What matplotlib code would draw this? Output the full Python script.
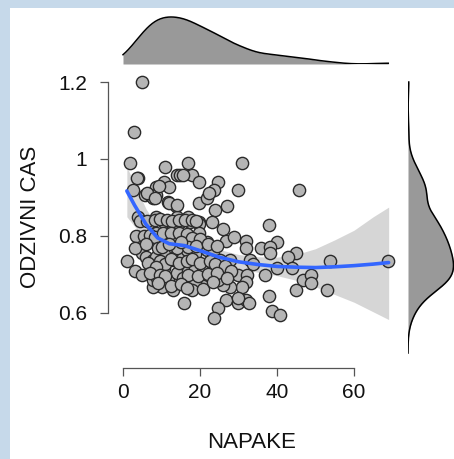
import numpy as np
import matplotlib
matplotlib.use("Agg")
import matplotlib.pyplot as plt
from matplotlib.patches import Rectangle

plt.rcParams['font.family'] = ['Liberation Sans', 'DejaVu Sans']

# ---- data: NAPAKE (x) and ODZIVNI CAS (y) ----
napake = [4.9, 2.9, 1.8, 10.9, 16.8, 30.8, 3.8, 13.9, 14.8, 17.8, 19.8, 24.8, 10.7, 11.9, 8.7,
          2.7, 29.9, 45.8, 23.7, 5.7, 7.0, 7.8, 8.7, 11.8, 13.8, 19.8, 21.9, 26.9, 23.9,
          3.8, 7.0, 8.7, 10.7, 13.9, 14.8, 16.8, 17.5, 19.7, 19.8, 23.0, 25.9, 13.0, 37.8,
          3.8, 6.5, 8.7, 10.7, 15.4, 16.7, 19.8, 21.7, 26.8, 28.9, 31.9, 31.9, 39.9, 35.8,
          38.1, 38.1, 44.9, 42.9, 53.8, 68.9, 1.0, 4.9, 5.9, 7.8, 8.7, 10.7, 13.0, 13.9,
          15.6, 16.7, 18.8, 21.7, 23.4, 25.2, 27.8, 33.0, 33.8, 39.9, 43.8, 46.8, 48.8, 48.8,
          36.9, 29.8, 32.2, 31.9, 30.8, 27.8, 25.9, 24.8, 22.6, 20.9, 18.8, 17.8, 20.9, 13.0,
          13.9, 11.8, 10.0, 7.8, 7.8, 8.8, 3.0, 10.7, 13.9, 16.8, 18.8, 20.9, 23.4, 15.9,
          26.8, 24.8, 23.7, 29.8, 31.9, 32.8, 37.8, 38.8, 40.8, 44.9, 52.9, 29.8,
          3.6, 15.6, 6.2, 8.2, 9.3, 12.0, 14.0, 22.3,
          4.5, 6.2, 8.4, 9.5, 11.5, 12.6, 14.5, 16.0, 18.0, 19.0,
          3.3, 5.5, 7.0, 8.3, 10.5, 12.5, 14.5, 16.5, 18.0, 20.0,
          3.0, 9.0, 10.2, 14.0, 17.0, 12.0, 6.0, 19.0, 22.0, 24.5, 15.0,
          6.5, 9.5, 11.0, 12.5, 14.5, 16.5, 18.0, 20.0, 22.5, 24.0, 26.5, 8.5,
          5.0, 7.0, 9.5, 11.0, 15.5, 17.0, 19.5, 22.0, 24.5, 28.0,
          9.0, 12.5, 15.0, 16.5, 23.5, 27.0]
odzivni_cas = [1.200, 1.071, 0.990, 0.980, 0.990, 0.990, 0.950, 0.958, 0.958, 0.958, 0.940, 0.940,
               0.940, 0.928, 0.928, 0.920, 0.920, 0.920, 0.920, 0.906, 0.906, 0.900, 0.906, 0.889,
               0.878, 0.886, 0.900, 0.878, 0.867, 0.849, 0.837, 0.850, 0.837, 0.850, 0.837, 0.850,
               0.837, 0.837, 0.830, 0.837, 0.817, 0.817, 0.829, 0.798, 0.798, 0.807, 0.798, 0.802,
               0.789, 0.807, 0.785, 0.787, 0.798, 0.787, 0.768, 0.785, 0.768, 0.772, 0.757, 0.757,
               0.746, 0.736, 0.736, 0.736, 0.757, 0.746, 0.738, 0.746, 0.754, 0.738, 0.754, 0.746,
               0.763, 0.754, 0.763, 0.754, 0.738, 0.738, 0.738, 0.728, 0.717, 0.717, 0.687, 0.698,
               0.677, 0.698, 0.698, 0.698, 0.681, 0.668, 0.668, 0.672, 0.687, 0.687, 0.670, 0.677,
               0.659, 0.662, 0.659, 0.679, 0.687, 0.668, 0.668, 0.687, 0.692, 0.709, 0.717, 0.704,
               0.709, 0.717, 0.709, 0.700, 0.625, 0.635, 0.614, 0.587, 0.625, 0.635, 0.625, 0.643,
               0.605, 0.595, 0.659, 0.659, 0.640,
               0.950, 0.958, 0.911, 0.898, 0.930, 0.886, 0.880, 0.911,
               0.840, 0.840, 0.842, 0.845, 0.842, 0.840, 0.842, 0.842, 0.842, 0.840,
               0.800, 0.800, 0.803, 0.798, 0.808, 0.808, 0.808, 0.804, 0.795, 0.792,
               0.770, 0.770, 0.772, 0.770, 0.772, 0.780, 0.780, 0.775, 0.778, 0.775, 0.785,
               0.730, 0.735, 0.728, 0.740, 0.730, 0.735, 0.740, 0.730, 0.735, 0.728, 0.722, 0.720,
               0.700, 0.705, 0.700, 0.695, 0.690, 0.700, 0.695, 0.702, 0.705, 0.710,
               0.678, 0.670, 0.675, 0.665, 0.680, 0.690]

# smooth fit and its confidence band
smooth_x = [1, 3, 6, 9, 12, 16, 20, 25, 30, 35, 40, 45, 50, 55, 60, 65, 69]
smooth_y = [0.917, 0.88, 0.83, 0.795, 0.78, 0.775, 0.762, 0.745, 0.733, 0.726, 0.721, 0.719,
            0.718, 0.72, 0.723, 0.727, 0.731]
band_hi = [0.98, 0.935, 0.87, 0.825, 0.80, 0.795, 0.782, 0.765, 0.752, 0.746, 0.745, 0.752,
           0.767, 0.79, 0.815, 0.85, 0.875]
band_lo = [0.85, 0.825, 0.79, 0.765, 0.76, 0.755, 0.742, 0.725, 0.714, 0.706, 0.697, 0.685,
           0.668, 0.648, 0.628, 0.603, 0.583]

x_ticks = [0, 20, 40, 60]
y_ticks = [0.6, 0.8, 1.0, 1.2]
y_ticklabels = ['0.6', '0.8', '1', '1.2']

# ---- layout helpers (pixels) ----
W, H = 454, 459
fig = plt.figure(figsize=(W / 100, H / 100), dpi=100, facecolor='white')

def box(l, t, r, b):
    return [l / W, 1 - b / H, (r - l) / W, (b - t) / H]

# light blue frame on left and top
fig.patches.append(Rectangle((0, 0), 10 / W, 1, transform=fig.transFigure,
                             facecolor='#c6d9ea', edgecolor='none', zorder=0))
fig.patches.append(Rectangle((0, 1 - 8 / H), 1, 8 / H, transform=fig.transFigure,
                             facecolor='#c6d9ea', edgecolor='none', zorder=0))

px_per_x = 3.85
x0_px = 123
px_per_y = 385
y12_px = 82
L, R, T, B = 108, 400, 72, 368
xlim = ((L - x0_px) / px_per_x, (R - x0_px) / px_per_x)
ylim = (1.2 - (B - y12_px) / px_per_y, 1.2 + (y12_px - T) / px_per_y)

ax = fig.add_axes(box(L, T, R, B))
ax.set_xlim(*xlim)
ax.set_ylim(*ylim)
ax.set_facecolor('none')
for s in ['top', 'right']:
    ax.spines[s].set_visible(False)
axis_col = '#555555'
ax.spines['left'].set_bounds(0.6, 1.2)
ax.spines['bottom'].set_bounds(0, 60)
for s in ['left', 'bottom']:
    ax.spines[s].set_color(axis_col)
    ax.spines[s].set_linewidth(0.9)
ax.set_xticks(x_ticks)
ax.set_xticklabels([str(v) for v in x_ticks])
ax.set_yticks(y_ticks)
ax.set_yticklabels(y_ticklabels)
ax.tick_params(axis='both', direction='out', length=6, width=0.9, color=axis_col,
               labelsize=15, labelcolor='#111111')
ax.tick_params(axis='x', pad=5)
ax.tick_params(axis='y', pad=9)

ax.fill_between(smooth_x, band_lo, band_hi, color='#d6d6d6', lw=0, zorder=1)
ax.scatter(napake, odzivni_cas, s=78, facecolor='#b5b5b5', edgecolor='#2a2a2a',
           linewidths=1.0, zorder=2)
ax.plot(smooth_x, smooth_y, color='#3366ff', lw=2.6, zorder=3, solid_capstyle='round')

fig.text(252 / W, 1 - 442 / H, 'NAPAKE', ha='center', va='center', fontsize=16,
         color='#111111')
fig.text(30 / W, 1 - 217 / H, 'ODZIVNI CAS', ha='center', va='center', rotation=90,
         fontsize=16, color='#111111')

# ---- marginal densities ----
def kde(data, grid):
    d = np.asarray(data)
    n = len(d)
    sd = d.std(ddof=1)
    iqr = np.subtract(*np.percentile(d, [75, 25]))
    bw = 0.9 * min(sd, iqr / 1.34) * n ** (-0.2)
    g = np.asarray(grid)[:, None]
    return np.exp(-0.5 * ((g - d[None, :]) / bw) ** 2).sum(axis=1) / (n * bw * np.sqrt(2 * np.pi))

gx = np.linspace(0, max(napake), 300)
dx = kde(napake, gx)
axt = fig.add_axes(box(L, 10, R, 64))
axt.set_xlim(*xlim)
axt.set_ylim(0, dx.max() * 54 / 47)
axt.fill_between(gx, 0, dx, color='#999999', lw=0)
axt.plot(gx, dx, color='black', lw=1.1)
axt.axis('off')

gy = np.linspace(0.496, 1.2, 300)
dy = kde(odzivni_cas, gy)
axr = fig.add_axes(box(408, T, 462, B))
axr.set_ylim(*ylim)
axr.set_xlim(0, dy.max() * 54 / 45.5)
axr.fill_betweenx(gy, 0, dy, color='#999999', lw=0)
axr.plot(dy, gy, color='black', lw=1.1)
axr.axis('off')

fig.savefig('out.png', dpi=100, facecolor='white')
